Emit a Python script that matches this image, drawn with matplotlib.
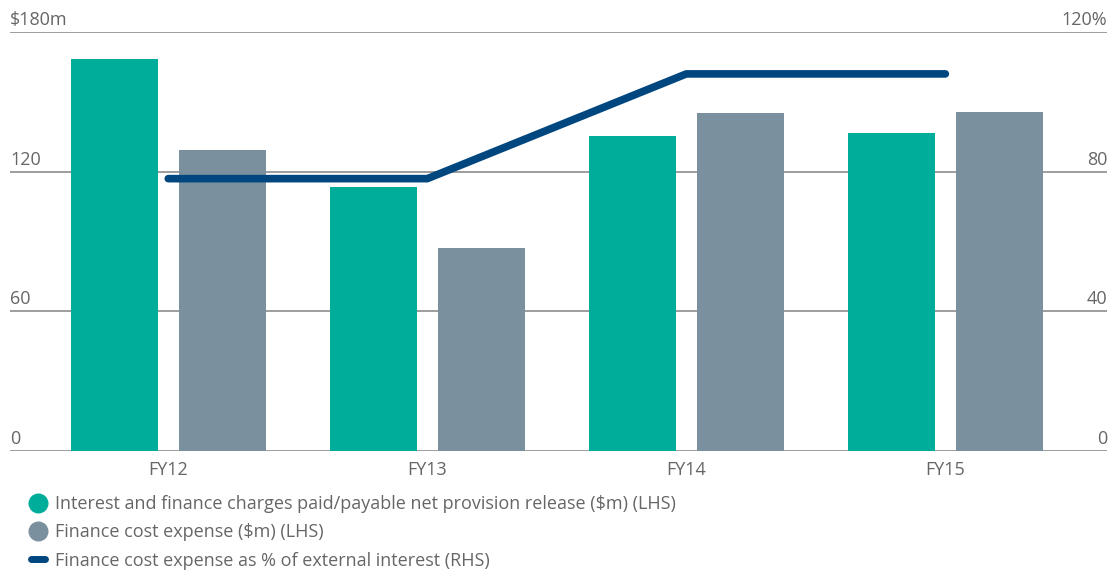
import matplotlib.pyplot as plt
import numpy as np
from matplotlib.lines import Line2D

# Finance charges data, FY12 - FY15
years = ["FY12", "FY13", "FY14", "FY15"]
interest_paid = [168.5, 113.5, 135.5, 136.5]     # $m (LHS)
finance_cost = [129.5, 87.0, 145.0, 145.5]       # $m (LHS)
cost_pct_external = [78.0, 78.0, 108.0, 108.0]   # % (RHS)

lhs_ticks = [0, 60, 120, 180]
lhs_labels = ["0", "60", "120", "$180m"]
rhs_ticks = [0, 40, 80, 120]
rhs_labels = ["0", "40", "80", "120%"]

green = "#00ad9a"
grey = "#7b909e"
navy = "#00467f"
text_col = "#666666"
grid_col = "#8c8c8c"
fs = 13

plt.rcParams["font.family"] = ["Open Sans", "DejaVu Sans"]

fig = plt.figure(figsize=(11.11, 5.70), dpi=100)
ax = fig.add_axes([10 / 1111, 1 - 451 / 570, 1097 / 1111, 419 / 570])

x = np.arange(len(years))
width = 0.335
offset = 0.2085
ax.bar(x - offset, interest_paid, width, color=green, zorder=3)
ax.bar(x + offset, finance_cost, width, color=grey, zorder=3)

ax.set_xlim(-0.611, 3.624)
ax.set_ylim(0, 180)

# horizontal gridlines across the full width
for t in lhs_ticks:
    ax.axhline(t, color=grid_col, lw=1.2, zorder=1)

# right-hand axis for the percentage line
ax2 = ax.twinx()
ax2.set_ylim(0, 120)
ax2.plot(x, cost_pct_external, color=navy, lw=5.5, solid_capstyle="round", zorder=4)

for a in (ax, ax2):
    for s in a.spines.values():
        s.set_visible(False)
    a.set_yticks([])
    a.tick_params(length=0)

# value labels sit just above each gridline, inside the plot edges
for t, lab in zip(lhs_ticks, lhs_labels):
    ax.annotate(lab, (0, t), xycoords=ax.get_yaxis_transform(), xytext=(0, 5),
                textcoords="offset points", ha="left", va="baseline",
                fontsize=fs, color=text_col)
for t, lab in zip(rhs_ticks, rhs_labels):
    ax2.annotate(lab, (1, t), xycoords=ax2.get_yaxis_transform(), xytext=(0, 5),
                 textcoords="offset points", ha="right", va="baseline",
                 fontsize=fs, color=text_col)

ax.set_xticks(x)
ax.set_xticklabels(years, fontsize=fs, color=text_col)
ax.tick_params(axis="x", pad=7.5)

handles = [
    Line2D([], [], ls="none", marker="o", ms=13.4, color=green),
    Line2D([], [], ls="none", marker="o", ms=13.4, color=grey),
    Line2D([], [], color=navy, lw=5, solid_capstyle="round"),
]
labels = [
    "Interest and finance charges paid/payable net provision release ($m) (LHS)",
    "Finance cost expense ($m) (LHS)",
    "Finance cost expense as % of external interest (RHS)",
]
fig.legend(handles, labels, loc="upper left", bbox_to_anchor=(30.5 / 1111, 1 - 495 / 570),
           frameon=False, fontsize=fs, labelcolor=text_col, handlelength=0.78,
           handletextpad=0.58, labelspacing=0.57, borderpad=0, borderaxespad=0)

fig.savefig("out.png", dpi=100)
